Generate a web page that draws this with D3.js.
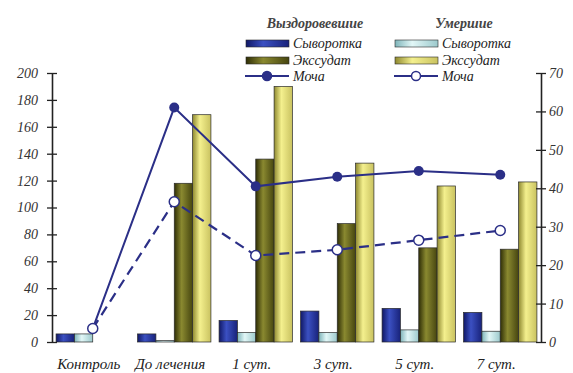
<!DOCTYPE html>
<html>
<head>
<meta charset="utf-8">
<script src="https://cdn.jsdelivr.net/npm/d3@7"></script>
<style>
  html, body { margin: 0; padding: 0; background: #fff; }
  svg { display: block; }
</style>
</head>
<body>
<svg id="chart" width="573" height="373"></svg>
<script>
// Categories (time points)
const categories = ["Контроль", "До лечения", "1 сут.", "3 сут.", "5 сут.", "7 сут."];

// Bars, left axis
const serumRecovered   = [6, 6, 16, 23, 25, 22];
const serumDied        = [6, 1, 7, 7, 9, 8];
const exudateRecovered = [0, 118, 136, 88, 70, 69];
const exudateDied      = [0, 169, 190, 133, 116, 119];

// Lines, right axis
const urineRecovered = [3.5, 61, 40.5, 43, 44.5, 43.5];
const urineDied      = [3.5, 36.5, 22.5, 24, 26.5, 29];

// Axis ticks
const leftTicks  = [0, 20, 40, 60, 80, 100, 120, 140, 160, 180, 200];
const rightTicks = [0, 10, 20, 30, 40, 50, 60, 70];

// Group headers and legend labels
const groupHeaders = ["Выздоровевшие", "Умершие"];
const legendLabels = ["Сыворотка", "Экссудат", "Моча"];

const barSeries = [
  { key: "sr", values: serumRecovered,   grad: ["#101866", "#3b50c2", "#18227a"] },
  { key: "sd", values: serumDied,        grad: ["#7fb5ba", "#e2f7f7", "#9cc9cc"] },
  { key: "er", values: exudateRecovered, grad: ["#2f2e06", "#8a8930", "#46450f"] },
  { key: "ed", values: exudateDied,      grad: ["#8f8930", "#f4f08e", "#c9c260"] }
];

const lineColor = "#2b2f87";
const serifFont = "'Liberation Serif', 'Times New Roman', 'DejaVu Serif', serif";

// Italic serif text helper
function styleText(sel, size) {
  return sel.style("font-family", serifFont)
    .style("font-style", "italic")
    .style("font-size", size + "px");
}

const svg = d3.select("#chart");
const plotLeft = 52, plotRight = 541, plotTop = 73, plotBottom = 342;

// Horizontal cylinder-like gradients for the bars
const defs = svg.append("defs");
barSeries.forEach(s => {
  const g = defs.append("linearGradient").attr("id", "g-" + s.key)
    .attr("x1", "0%").attr("x2", "100%").attr("y1", "0%").attr("y2", "0%");
  g.append("stop").attr("offset", "0%").attr("stop-color", s.grad[0]);
  g.append("stop").attr("offset", "40%").attr("stop-color", s.grad[1]);
  g.append("stop").attr("offset", "100%").attr("stop-color", s.grad[2]);
});

const x = d3.scaleBand().domain(categories).range([plotLeft, plotRight])
  .paddingInner(0.1).paddingOuter(0.05);
const xs = d3.scaleBand().domain(barSeries.map(s => s.key)).range([0, x.bandwidth()]);
const yL = d3.scaleLinear().domain([0, 200]).range([plotBottom, plotTop]);
const yR = d3.scaleLinear().domain([0, 70]).range([plotBottom, plotTop]);

// Bars
const groups = svg.append("g").selectAll("g").data(categories).join("g")
  .attr("transform", c => `translate(${x(c)},0)`);
groups.each(function(c, i) {
  const g = d3.select(this);
  barSeries.forEach(s => {
    const v = s.values[i];
    if (v <= 0) return;
    g.append("rect")
      .attr("x", xs(s.key))
      .attr("y", yL(v))
      .attr("width", xs.bandwidth())
      .attr("height", yL(0) - yL(v))
      .attr("fill", `url(#g-${s.key})`)
      .attr("stroke", "#2a2a2a")
      .attr("stroke-width", 0.7);
  });
});

// Axes
const axisL = d3.axisLeft(yL).tickValues(leftTicks).tickSize(0).tickPadding(14);
const gL = svg.append("g").attr("transform", `translate(${plotLeft},0)`).call(axisL);
const axisR = d3.axisRight(yR).tickValues(rightTicks).tickSize(0).tickPadding(8);
const gR = svg.append("g").attr("transform", `translate(${plotRight},0)`).call(axisR);
[gL, gR].forEach(g => {
  g.attr("font-family", null).attr("font-size", null);
  g.select(".domain").attr("stroke", "#222").attr("stroke-width", 1.6);
  styleText(g.selectAll(".tick text"), 14).attr("fill", "#333");
  g.selectAll(".tick").append("line")
    .attr("x1", -5).attr("x2", 5).attr("stroke", "#222").attr("stroke-width", 1.3);
});

// Category labels
styleText(svg.append("g").selectAll("text").data(categories).join("text"), 15)
  .attr("x", c => x(c) + x.bandwidth() / 2 - 4)
  .attr("y", 369)
  .attr("text-anchor", "middle")
  .attr("fill", "#222")
  .text(c => c);

// Lines
const cx = (c) => x(c) + x.bandwidth() / 2;
const line = d3.line().x((d, i) => cx(categories[i])).y(d => yR(d));

svg.append("path").datum(urineRecovered).attr("d", line)
  .attr("fill", "none").attr("stroke", lineColor).attr("stroke-width", 2);
svg.append("path").datum(urineDied).attr("d", line)
  .attr("fill", "none").attr("stroke", lineColor).attr("stroke-width", 2.2)
  .attr("stroke-dasharray", "10,6");

svg.append("g").selectAll("circle").data(urineRecovered).join("circle")
  .attr("cx", (d, i) => cx(categories[i])).attr("cy", d => yR(d))
  .attr("r", 5).attr("fill", lineColor);
svg.append("g").selectAll("circle").data(urineDied).join("circle")
  .attr("cx", (d, i) => cx(categories[i])).attr("cy", d => yR(d))
  .attr("r", 5).attr("fill", "#fff").attr("stroke", lineColor).attr("stroke-width", 1.5);

// Legend
const legend = svg.append("g");
const cols = [
  { x: 246, header: groupHeaders[0], bars: ["sr", "er"], open: false },
  { x: 395, header: groupHeaders[1], bars: ["sd", "ed"], open: true }
];
cols.forEach(col => {
  styleText(legend.append("text"), 14)
    .attr("x", col.x + 69).attr("y", 28)
    .attr("text-anchor", "middle").style("font-weight", "bold")
    .attr("fill", "#444").text(col.header);
  col.bars.forEach((k, j) => {
    const yy = 40 + j * 17;
    legend.append("rect").attr("x", col.x).attr("y", yy).attr("width", 43).attr("height", 7)
      .attr("fill", `url(#g-${k})`).attr("stroke", "#2a2a2a").attr("stroke-width", 0.6);
    styleText(legend.append("text"), 14)
      .attr("x", col.x + 47).attr("y", yy + 8).attr("fill", "#222")
      .text(legendLabels[j]);
  });
  const ly = 76;
  legend.append("line").attr("x1", col.x - 1).attr("x2", col.x + 43).attr("y1", ly).attr("y2", ly)
    .attr("stroke", lineColor).attr("stroke-width", 2);
  legend.append("circle").attr("cx", col.x + 21).attr("cy", ly).attr("r", 4.5)
    .attr("fill", col.open ? "#fff" : lineColor)
    .attr("stroke", lineColor).attr("stroke-width", 1.5);
  styleText(legend.append("text"), 14)
    .attr("x", col.x + 47).attr("y", ly + 5).attr("fill", "#222")
    .text(legendLabels[2]);
});
</script>
</body>
</html>
